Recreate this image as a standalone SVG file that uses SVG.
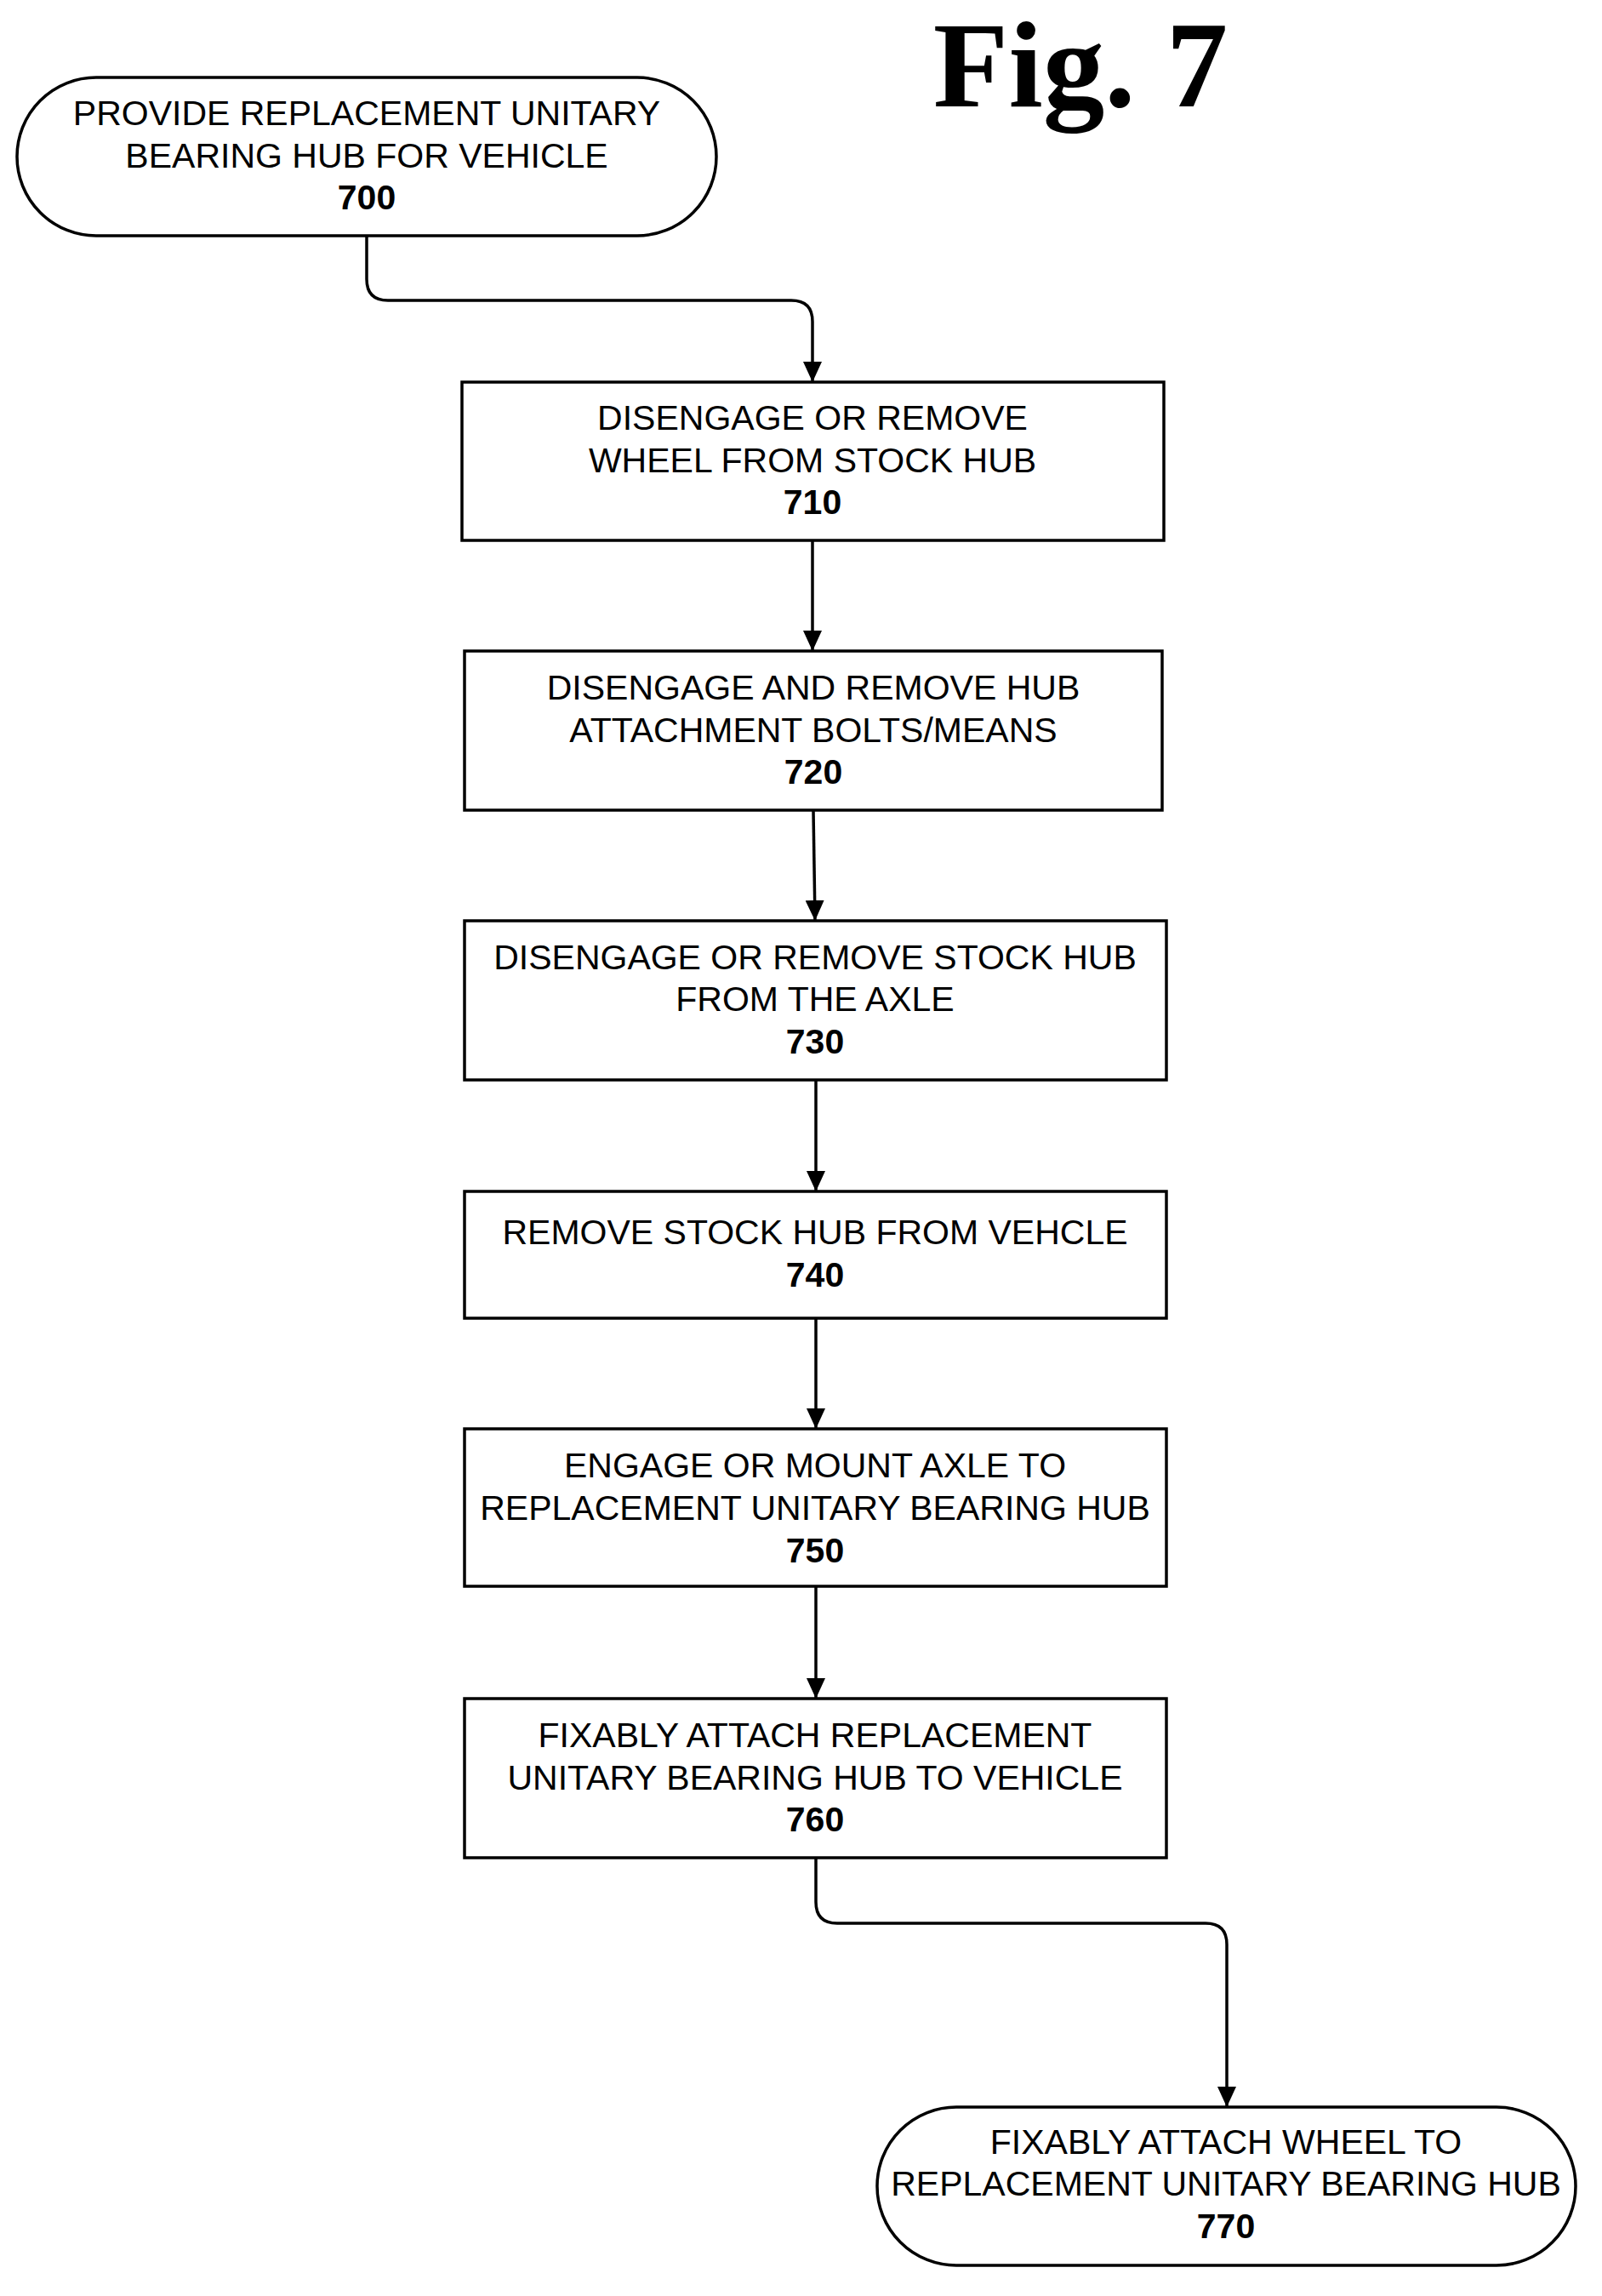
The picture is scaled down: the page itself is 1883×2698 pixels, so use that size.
<svg xmlns="http://www.w3.org/2000/svg" width="1883" height="2698" viewBox="0 0 1883 2698">
<style>
.b{fill:#fff;stroke:#000;stroke-width:3.5}
.t{font-family:"Liberation Sans",Arial,sans-serif;font-size:41px;text-anchor:middle;fill:#000}
.n{font-weight:bold}
.c{fill:none;stroke:#000;stroke-width:3.5}
</style>
<defs><marker id="a" markerWidth="24" markerHeight="22" refX="24" refY="11" orient="auto" markerUnits="userSpaceOnUse" viewBox="0 0 24 22"><path d="M0,0 L24,11 L0,22 z"/></marker></defs>
<rect width="1883" height="2698" fill="#fff"/>
<text x="1270" y="125" font-family="Liberation Serif,serif" font-weight="bold" font-size="145" text-anchor="middle">Fig. 7</text>
<g id="connectors">
<path class="c" d="M431,277 V328 Q431,353 456,353 H930 Q955,353 955,378 V449" marker-end="url(#a)"/>
<path class="c" d="M955,635 V765" marker-end="url(#a)"/>
<path class="c" d="M956,952 L958,1082" marker-end="url(#a)"/>
<path class="c" d="M959,1269 V1400" marker-end="url(#a)"/>
<path class="c" d="M959,1549 V1679" marker-end="url(#a)"/>
<path class="c" d="M959,1864 V1996" marker-end="url(#a)"/>
<path class="c" d="M959,2183 V2235 Q959,2260 984,2260 H1417 Q1442,2260 1442,2285 V2476" marker-end="url(#a)"/>
</g>
<g id="n700"><rect class="b" x="20" y="91" width="822" height="186" rx="93"/>
<text class="t" x="431" y="147">PROVIDE REPLACEMENT UNITARY</text><text class="t" x="431" y="197">BEARING HUB FOR VEHICLE</text><text class="t n" x="431" y="246">700</text></g>
<g id="n710"><rect class="b" x="543" y="449" width="825" height="186"/>
<text class="t" x="955" y="505">DISENGAGE OR REMOVE</text><text class="t" x="955" y="555">WHEEL FROM STOCK HUB</text><text class="t n" x="955" y="604">710</text></g>
<g id="n720"><rect class="b" x="546" y="765" width="820" height="187"/>
<text class="t" x="956" y="822">DISENGAGE AND REMOVE HUB</text><text class="t" x="956" y="872">ATTACHMENT BOLTS/MEANS</text><text class="t n" x="956" y="921">720</text></g>
<g id="n730"><rect class="b" x="546" y="1082" width="825" height="187"/>
<text class="t" x="958" y="1139">DISENGAGE OR REMOVE STOCK HUB</text><text class="t" x="958" y="1188">FROM THE AXLE</text><text class="t n" x="958" y="1238">730</text></g>
<g id="n740"><rect class="b" x="546" y="1400" width="825" height="149"/>
<text class="t" x="958" y="1462">REMOVE STOCK HUB FROM VEHCLE</text><text class="t n" x="958" y="1512">740</text></g>
<g id="n750"><rect class="b" x="546" y="1679" width="825" height="185"/>
<text class="t" x="958" y="1736">ENGAGE OR MOUNT AXLE TO</text><text class="t" x="958" y="1786">REPLACEMENT UNITARY BEARING HUB</text><text class="t n" x="958" y="1836">750</text></g>
<g id="n760"><rect class="b" x="546" y="1996" width="825" height="187"/>
<text class="t" x="958" y="2053">FIXABLY ATTACH REPLACEMENT</text><text class="t" x="958" y="2103">UNITARY BEARING HUB TO VEHICLE</text><text class="t n" x="958" y="2152">760</text></g>
<g id="n770"><rect class="b" x="1031" y="2476" width="821" height="186" rx="93"/>
<text class="t" x="1441" y="2531">FIXABLY ATTACH WHEEL TO</text><text class="t" x="1441" y="2580">REPLACEMENT UNITARY BEARING HUB</text><text class="t n" x="1441" y="2630">770</text></g>
</svg>
